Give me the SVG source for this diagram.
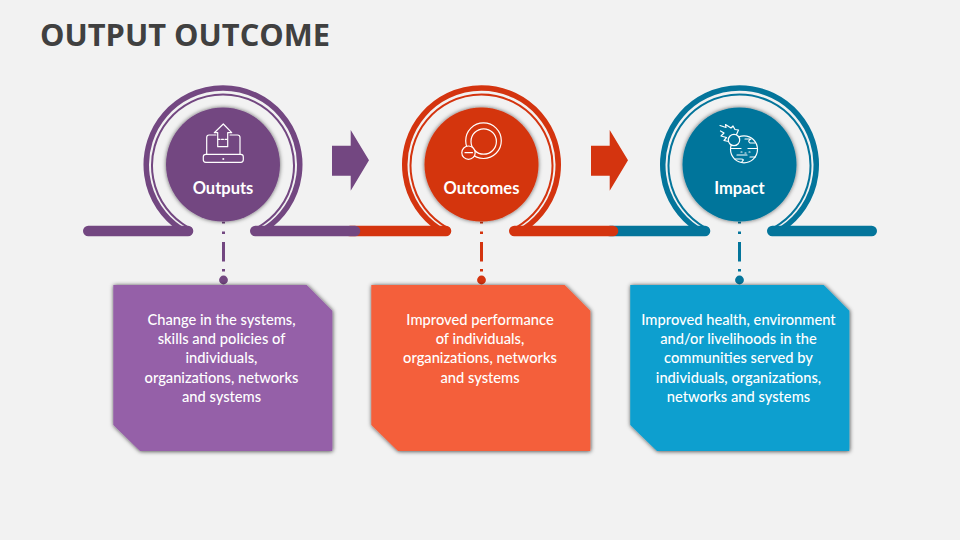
<svg xmlns="http://www.w3.org/2000/svg" width="960" height="540" viewBox="0 0 960 540">
<style>
.title{font:700 30.800px "Open Sans",sans-serif;fill:#404040}
.lab{font:700 16.500px Lato,"Open Sans",sans-serif;fill:#fff;text-anchor:middle}
.body{font:500 14.700px Lato,"Open Sans",sans-serif;fill:#fff;text-anchor:middle}
.ic{fill:none;stroke:#fff;stroke-width:1.2;stroke-linejoin:round;stroke-linecap:round}
.band{fill:none;stroke-width:5.5}
.thin{fill:none;stroke-width:2}
.bar{fill:none;stroke-width:10.6;stroke-linecap:round}
.dash{stroke-width:3;fill:none;stroke-dasharray:1.7 8 2.5 8 19.500 7.500 2.500 50}
.pu{stroke:#734781}.re{stroke:#D4340F}.te{stroke:#04759B}
</style>
<defs>
<filter id="glow" x="-15%" y="-15%" width="130%" height="130%"><feDropShadow dx="0" dy="0" stdDeviation="2" flood-color="#000" flood-opacity=".6"/></filter>
<filter id="sh" x="-5%" y="-5%" width="110%" height="110%"><feDropShadow dx=".4" dy=".4" stdDeviation="2" flood-color="#000" flood-opacity=".75"/></filter>
<path id="ringB" d="M181 229A76.750 76.750 0 1 1 265 229"/>
<path id="ringT" d="M188.400 227.500A71 71 0 1 1 257.600 227.500"/>
<path id="box" d="M113.300 285H306.700L332.300 310.700V451H140L113.300 425Z"/>
</defs>
<rect width="960" height="540" fill="#F2F2F2"/>
<text class="title" x="40" y="46">OUTPUT OUTCOME</text>
<g id="connectors">
<path class="bar te" d="M610 231H705M772.300 231H871.700"/>
<path class="bar re" d="M350 231H446M514.300 231H613"/>
<path class="bar pu" d="M88.300 231H188M255.300 231H355"/>
<path class="dash pu" d="M223.500 221.700V284"/>
<path class="dash re" d="M481.500 221.700V284"/>
<path class="dash te" d="M739.500 221.700V284"/>
<path d="M332 145.700H350.700V130L369 160.300L350.700 190.700V175.700H332Z" fill="#734781"/>
<path d="M591 145.700H609.700V130L628 160.300L609.700 190.700V175.700H591Z" fill="#D4340F"/>
</g>
<g id="outputs">
<use href="#ringB" class="band pu"/><use href="#ringT" class="thin pu"/>
<circle cx="223" cy="164.500" r="57" fill="#734781" filter="url(#glow)"/>
<g class="ic">
<path d="M216 135H209Q206.700 135 206.700 137.500V154M230 135H237.500Q240 135 240 137.500V154"/>
<rect x="203.300" y="154.300" width="40" height="8" rx="2.500"/>
<path d="M223.300 124L231.700 132.700H227.700V146.700H217.700V132.700H214.300Z"/>
<path d="M218 139.300H228" stroke-dasharray="2 1.500"/>
<circle cx="223.300" cy="159" r=".4"/>
</g>
<text class="lab" x="223" y="193.500">Outputs</text>
<circle cx="223.500" cy="280" r="4.400" fill="#734781"/>
<use href="#box" fill="#9560A8" filter="url(#sh)"/>
<g class="body"><text x="221.500" y="325">Change in the systems,</text><text x="221.500" y="344">skills and policies of</text><text x="221.500" y="363">individuals,</text><text x="221.500" y="383">organizations, networks</text><text x="221.500" y="402">and systems</text></g>
</g>
<g id="outcomes">
<g transform="translate(258.500 0)"><use href="#ringB" class="band re"/><use href="#ringT" class="thin re"/></g>
<circle cx="481.500" cy="164.500" r="57" fill="#D4340F" filter="url(#glow)"/>
<g class="ic">
<circle cx="483.500" cy="140.700" r="17.800"/>
<circle cx="483.700" cy="141.500" r="12.700"/>
<circle cx="468.500" cy="152.700" r="6.700" fill="#D4340F"/>
<path d="M465 152.700H472.500"/>
</g>
<text class="lab" x="481.500" y="193.500">Outcomes</text>
<circle cx="481.500" cy="280" r="4.400" fill="#D4340F"/>
<use href="#box" x="258" fill="#F45F3B" filter="url(#sh)"/>
<g class="body"><text x="480" y="325">Improved performance</text><text x="480" y="344">of individuals,</text><text x="480" y="363">organizations, networks</text><text x="480" y="383">and systems</text></g>
</g>
<g id="impact">
<g transform="translate(516.500 0)"><use href="#ringB" class="band te"/><use href="#ringT" class="thin te"/></g>
<circle cx="739.500" cy="164.500" r="57" fill="#04759B" filter="url(#glow)"/>
<g class="ic">
<circle cx="744" cy="149.300" r="13.500"/>
<path d="M720 125.500L726 127.500L725.500 124.500L731 128L733 126L735 129.500L738.500 130L736.500 134.500M720.500 131L724 133L721 136L726.500 137.500L724 140.500L728.500 141.500"/>
<circle cx="734" cy="140" r="5.700" fill="#04759B"/>
<path d="M745 139H751Q747 141 750 143H755M731 148.500H741M748 148.500H757.500M737 155H747M750 157H755.500M735 159H741Q745 159 742 161.500"/>
<path d="M741 152H742M745 153H746M749 152H750"/>
</g>
<text class="lab" x="739.500" y="193.500">Impact</text>
<circle cx="739.500" cy="280" r="4.400" fill="#04759B"/>
<use href="#box" x="517" fill="#089FCF" filter="url(#sh)"/>
<g class="body"><text x="738.500" y="325">Improved health, environment</text><text x="738.500" y="344">and/or livelihoods in the</text><text x="738.500" y="363">communities served by</text><text x="738.500" y="383">individuals, organizations,</text><text x="738.500" y="402">networks and systems</text></g>
</g>
</svg>
